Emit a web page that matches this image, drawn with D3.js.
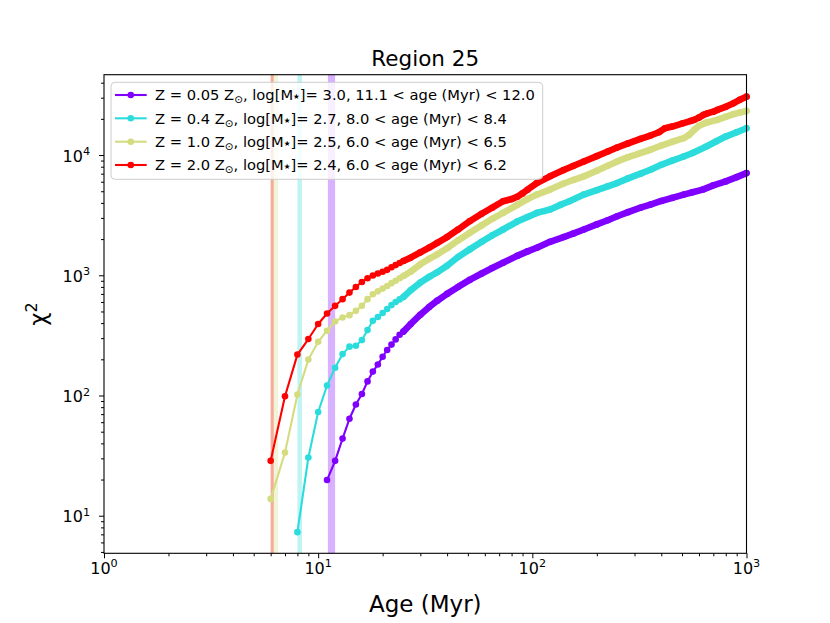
<!DOCTYPE html>
<html><head><meta charset="utf-8">
<script src="https://cdn.jsdelivr.net/npm/d3@7"></script>
<style>body{margin:0;background:#fff} text{font-family:"DejaVu Sans",sans-serif;fill:#000}</style>
</head><body><svg id="c" width="830" height="623"></svg>
<script>
// ---- data ----
const zValues = ["0.05", "0.4", "1.0", "2.0"];
const logMass = ["3.0", "2.7", "2.5", "2.4"];
const bandLo = [11.1, 8.0, 6.0, 6.0];
const bandHi = [12.0, 8.4, 6.5, 6.2];

const ageZ005 = [11,12,13,14,15,16,17,18,19,20,21,22,23,24,25,27,30,33,36,40,45,51,58,65,73,85,95,105,121,140,155,174,200,225,249,280,320,356,400,450,509,560,625,700,800,900,1000];
const chiZ005 = [19.8,28.6,43.8,64.1,84.2,103,131,158,181,210,239,265,293,320,340,392,470,545,615,700,800,915,1035,1150,1271,1450,1580,1693,1900,2080,2220,2404,2650,2870,3097,3350,3650,3872,4150,4400,4690,4900,5160,5600,6040,6550,7080];

const ageZ04 = [8,9,10,11,12,13,14,15,16,17,18,19,20,21,22,23,24,25,27,30,33,36,40,45,51,58,65,73,85,95,105,121,135,149,174,200,225,249,280,320,356,400,450,509,560,650,720,800,900,1000];
const chiZ04 = [7.3,30.5,72.9,121,170,221,255,259,289,350,418,450,485,525,565,600,630,660,750,870,970,1060,1200,1420,1642,1900,2150,2404,2800,3050,3302,3524,3850,4127,4690,5100,5500,5853,6400,7000,7550,8300,9000,9730,10400,11780,12970,14250,15490,16720];

const ageZ10 = [6,7,8,9,10,11,12,13,14,15,16,17,18,19,20,21,22,23,24,25,27,30,33,36,40,45,51,58,65,73,85,95,105,121,140,155,174,200,225,249,280,320,356,400,450,509,540,570,600,650,730,800,870,930,1000];
const chiZ10 = [13.8,33.5,102,199,280,346,413,446,466,506,557,633,696,735,775,815,860,900,945,986,1070,1234,1370,1493,1680,1950,2253,2600,2950,3302,3850,4300,4690,5160,5800,6200,6650,7400,8150,8850,9600,10400,11070,12000,12900,13810,14720,16200,17500,18600,19620,20800,21900,22600,23290];

const ageZ20 = [6,7,8,9,10,11,12,13,14,15,16,17,18,19,20,21,22,23,24,25,27,30,33,36,40,45,51,58,65,73,80,85,90,95,105,121,140,155,174,200,225,249,280,320,356,390,416,450,500,550,570,600,630,660,700,730,800,870,930,1000];
const chiZ20 = [28.6,98.6,219,295,393,481,557,633,718,800,880,944,995,1035,1070,1110,1165,1215,1265,1313,1400,1550,1700,1862,2080,2400,2818,3250,3650,4127,4300,4500,4800,5150,5853,6650,7500,8100,8850,9800,10700,11560,12500,13650,14540,15490,16720,17260,18280,19230,19620,20500,21600,22300,22950,23730,25200,27000,28800,30600];

const xMajorTicks = [1, 10, 100, 1000];
const yMajorTicks = [10, 100, 1000, 10000];
const tickExp = {1:"0", 10:"1", 100:"2", 1000:"3", 10000:"4"};

// ---- styles ----
const colors = ["#8000ff", "#2cdcdc", "#d5dc80", "#ff0000"];
const seriesAges = [ageZ005, ageZ04, ageZ10, ageZ20];
const seriesChi = [chiZ005, chiZ04, chiZ10, chiZ20];

const L = 104, R = 746.5, T = 74.7, B = 553.3;
const svg = d3.select("#c");
const x = d3.scaleLog().domain([1, 1000]).range([L, R]);
const y = d3.scaleLog().domain([4.87, 46600]).range([B, T]);

// bands
const gB = svg.append("g");
zValues.forEach((z, i) => {
  gB.append("rect")
    .attr("x", x(bandLo[i])).attr("y", T)
    .attr("width", x(bandHi[i]) - x(bandLo[i])).attr("height", B - T)
    .attr("fill", colors[i]).attr("fill-opacity", 0.3);
});

// series
const line = d3.line().x(d => x(d[0])).y(d => y(d[1]));
const denseFrom = 25;
zValues.forEach((z, i) => {
  const pts = seriesAges[i].map((a, k) => [a, seriesChi[i][k]]);
  const g = svg.append("g");
  g.append("path").attr("d", line(pts)).attr("fill", "none")
    .attr("stroke", colors[i]).attr("stroke-width", 2.1).attr("stroke-linejoin", "round");
  // markers merge into a continuous band where the age grid is dense
  const dense = pts.filter(p => p[0] >= denseFrom);
  g.append("path").attr("d", line(dense)).attr("fill", "none")
    .attr("stroke", colors[i]).attr("stroke-width", 6.6)
    .attr("stroke-linejoin", "round").attr("stroke-linecap", "round");
  g.selectAll("circle").data(pts).join("circle")
    .attr("cx", d => x(d[0])).attr("cy", d => y(d[1])).attr("r", 3.3)
    .attr("fill", colors[i]);
});

// axes
function minorTicks(lo, hi) {
  const out = [];
  for (let e = -1; e <= 5; e++) for (let m = 2; m <= 9; m++) {
    const v = m * Math.pow(10, e);
    if (v > lo && v < hi) out.push(v);
  }
  return out;
}
const ax = svg.append("g").attr("transform", `translate(0,${B})`);
ax.call(d3.axisBottom(x).tickValues(xMajorTicks).tickSize(5).tickFormat(""));
ax.append("g").call(d3.axisBottom(x).tickValues(minorTicks(1, 1000)).tickSize(3).tickFormat(""));
const ay = svg.append("g").attr("transform", `translate(${L},0)`);
ay.call(d3.axisLeft(y).tickValues(yMajorTicks).tickSize(5).tickFormat(""));
ay.append("g").call(d3.axisLeft(y).tickValues(minorTicks(4.87, 46600)).tickSize(3).tickFormat(""));
svg.selectAll(".domain").remove();
svg.selectAll(".tick line").attr("stroke", "#000").attr("stroke-width", 1);

// tick labels
xMajorTicks.forEach(v => {
  const t = svg.append("text").attr("x", x(v)).attr("y", 573.5)
    .attr("text-anchor", "middle").attr("font-size", 16);
  t.append("tspan").text("10");
  t.append("tspan").attr("dy", -6.5).attr("font-size", 11.2).text(tickExp[v]);
});
yMajorTicks.forEach(v => {
  const t = svg.append("text").attr("x", 90).attr("y", y(v) + 6.5)
    .attr("text-anchor", "end").attr("font-size", 16);
  t.append("tspan").text("10");
  t.append("tspan").attr("dy", -6.5).attr("font-size", 11.2).text(tickExp[v]);
});

// frame
svg.append("rect").attr("x", L).attr("y", T).attr("width", R - L).attr("height", B - T)
  .attr("fill", "none").attr("stroke", "#000").attr("stroke-width", 1.1);

// labels
svg.append("text").attr("x", (L + R) / 2).attr("y", 66).attr("text-anchor", "middle")
  .attr("font-size", 21.5).text("Region 25");
svg.append("text").attr("x", (L + R) / 2).attr("y", 611.5).attr("text-anchor", "middle")
  .attr("font-size", 23).text("Age (Myr)");
const yl = svg.append("text").attr("transform", `translate(46,${(T + B) / 2}) rotate(-90)`)
  .attr("text-anchor", "middle").attr("font-size", 23);
yl.append("tspan").text("χ");
yl.append("tspan").attr("dy", -9).attr("font-size", 16).text("2");

// legend
const lg = svg.append("g");
lg.append("rect").attr("x", 111).attr("y", 82.3).attr("width", 431.7).attr("height", 97)
  .attr("rx", 4).attr("fill", "#fff").attr("fill-opacity", 0.8)
  .attr("stroke", "#cccccc").attr("stroke-width", 1);
const rowY = [95, 118.3, 141.7, 165];
zValues.forEach((z, i) => {
  const cy = rowY[i];
  lg.append("line").attr("x1", 115).attr("x2", 146.7).attr("y1", cy).attr("y2", cy)
    .attr("stroke", colors[i]).attr("stroke-width", 2.1);
  lg.append("circle").attr("cx", 130.8).attr("cy", cy).attr("r", 3.3).attr("fill", colors[i]);
  const t = lg.append("text").attr("x", 155).attr("y", cy + 5.2).attr("font-size", 14.7);
  t.append("tspan").text(`Z = ${z} Z`);
  t.append("tspan").attr("dy", 3).attr("font-size", 10.5).text("⊙");
  t.append("tspan").attr("dy", -3).text(", log[M");
  t.append("tspan").attr("dy", -1).attr("font-size", 7.5).text("★");
  t.append("tspan").attr("dy", 1).text(`]= ${logMass[i]}, ${bandLo[i].toFixed(1)} < age (Myr) < ${bandHi[i].toFixed(1)}`);
});
</script></body></html>
